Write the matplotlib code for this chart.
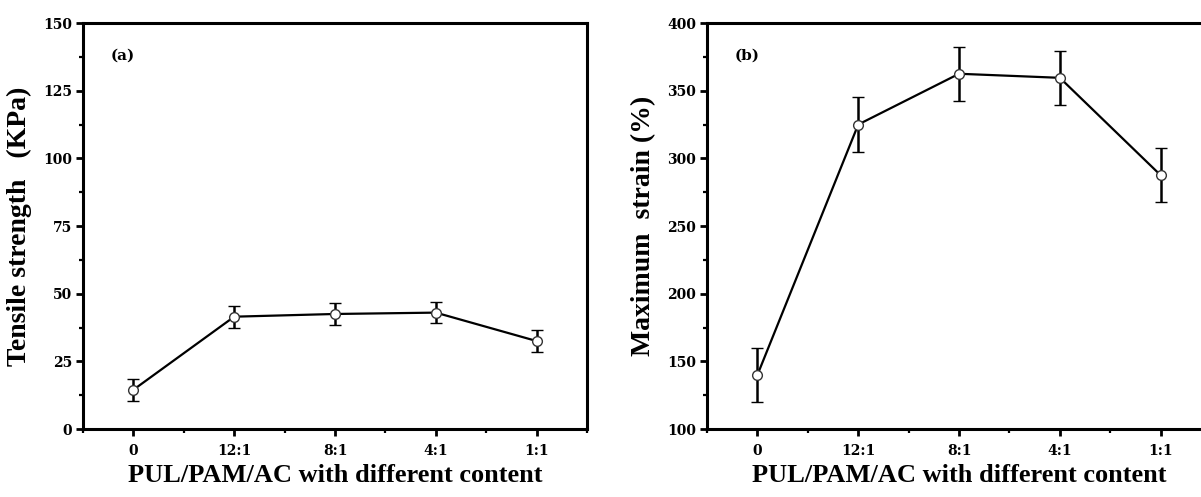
import matplotlib.pyplot as plt
from matplotlib.ticker import MultipleLocator
import numpy as np

# dados
categorias = ["0", "12:1", "8:1", "4:1", "1:1"]
tensao = [14.5, 41.5, 42.5, 43.0, 32.5]
tensao_err = [4.0, 4.0, 4.0, 4.0, 4.0]
deformacao = [140.0, 325.0, 362.5, 359.5, 287.5]
deformacao_err = [20.0, 20.0, 20.0, 20.0, 20.0]

plt.rcParams['font.family'] = ['Liberation Serif', 'DejaVu Serif']
plt.rcParams['font.weight'] = 'bold'
fonteTicks = ['DejaVu Serif']


def desenharPainel(ax, valores, erros, ylim, passo, ylabel, letra):
    x = np.arange(len(categorias))
    ax.errorbar(x, valores, yerr=erros, color='black', lw=1.6,
                elinewidth=1.8, capsize=4.5, capthick=1.8,
                marker='o', ms=7, mfc='white', mec='#333333', mew=1.0,
                zorder=3)
    ax.set_xlim(-0.5, len(categorias) - 0.5)
    ax.set_ylim(*ylim)
    ax.set_xticks(x)
    ax.set_xticklabels(categorias)
    ax.xaxis.set_minor_locator(MultipleLocator(0.5))
    ax.yaxis.set_major_locator(MultipleLocator(passo))
    ax.yaxis.set_minor_locator(MultipleLocator(passo / 2))
    ax.tick_params(which='major', direction='out', length=5, width=2,
                   labelsize=10, pad=3)
    ax.tick_params(which='minor', direction='out', length=3, width=1.6)
    ax.tick_params(axis='x', pad=6)
    for lbl in ax.get_xticklabels() + ax.get_yticklabels():
        lbl.set_fontweight('bold')
        lbl.set_family(fonteTicks)
    for s in ax.spines.values():
        s.set_linewidth(2.2)
    ax.set_xlabel('PUL/PAM/AC with different content', fontsize=19,
                  fontweight='bold', labelpad=4)
    ax.set_ylabel(ylabel, fontsize=20, fontweight='bold', labelpad=8)
    ax.text(0.055, 0.92, letra, transform=ax.transAxes, fontsize=11,
            fontweight='bold', va='center', ha='left', family=fonteTicks)


fig = plt.figure(figsize=(12.01, 4.97), dpi=100)
ax1 = fig.add_axes([0.0691, 0.1368, 0.4197, 0.8169])
ax2 = fig.add_axes([0.5887, 0.1368, 0.4197, 0.8169])

desenharPainel(ax1, tensao, tensao_err, (0, 150), 25,
               'Tensile strength   (KPa)', '(a)')
desenharPainel(ax2, deformacao, deformacao_err, (100, 400), 50,
               'Maximum  strain (%)', '(b)')

fig.savefig('out.png', dpi=100)
